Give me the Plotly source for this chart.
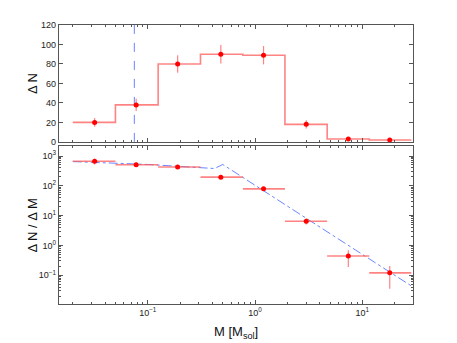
import plotly.graph_objects as go
from plotly.subplots import make_subplots

# mass bins (edges) and centres, in solar masses
bin_edges = [0.02, 0.05, 0.125, 0.31, 0.77, 1.9, 4.7, 11.6, 28.6]
bin_mass = [0.032, 0.078, 0.19, 0.48, 1.2, 3.0, 7.4, 18.0]

# counts per bin and their errors
counts = [20, 38, 80, 90, 89, 18, 3, 2]
counts_err = [4.5, 6.2, 8.9, 9.5, 9.4, 4.2, 1.7, 1.4]

# dN/dM and errors
dndm = [667, 510, 430, 195, 79, 6.5, 0.44, 0.12]
dndm_err = [150, 83, 48, 21, 8.3, 1.5, 0.25, 0.085]

# broken power law fit
fit_mass = [0.02, 0.1, 0.42, 0.5, 30]
fit_dndm = [650, 520, 380, 520, 0.039]

mass_limit = 0.075

x_ticks = [0.1, 1, 10]
x_ticklabels = ["10<sup>−1</sup>", "10<sup>0</sup>", "10<sup>1</sup>"]
y_ticks = [0.1, 1, 10, 100, 1000]
y_ticklabels = ["10<sup>−1</sup>", "10<sup>0</sup>", "10<sup>1</sup>", "10<sup>2</sup>", "10<sup>3</sup>"]

red = "#ff0000"
step_col = "rgba(255,90,90,0.75)"
blue = "rgba(90,120,255,0.9)"
axcol = "#555555"

fig = make_subplots(rows=2, cols=1, shared_xaxes=False, vertical_spacing=0.0)

# top panel: step histogram
fig.add_trace(go.Scatter(x=bin_edges, y=counts + [counts[-1]], mode="lines",
                         line=dict(color=step_col, width=1.6, shape="hv"),
                         showlegend=False), row=1, col=1)
fig.add_trace(go.Scatter(x=[mass_limit, mass_limit], y=[0, 120], mode="lines",
                         line=dict(color=blue, width=1, dash="dash"),
                         showlegend=False), row=1, col=1)
fig.add_trace(go.Scatter(x=bin_mass, y=counts, mode="markers",
                         marker=dict(color=red, size=5),
                         error_y=dict(type="data", array=counts_err, color=step_col,
                                      thickness=1.2, width=0),
                         showlegend=False), row=1, col=1)

# bottom panel
lo = [m - e for m, e in zip(bin_mass, bin_edges[:-1])]
hi = [e - m for m, e in zip(bin_mass, bin_edges[1:])]
fig.add_trace(go.Scatter(x=fit_mass, y=fit_dndm, mode="lines",
                         line=dict(color=blue, width=1, dash="dashdot"),
                         showlegend=False), row=2, col=1)
fig.add_trace(go.Scatter(x=bin_mass, y=dndm, mode="markers",
                         marker=dict(color=red, size=5),
                         error_x=dict(type="data", symmetric=False, array=hi, arrayminus=lo,
                                      color=step_col, thickness=1.6, width=0),
                         error_y=dict(type="data", array=dndm_err, color=step_col,
                                      thickness=1.2, width=0),
                         showlegend=False), row=2, col=1)

minor_log = [k * 10 ** e for e in range(-3, 4) for k in range(2, 10)]

tickfont = dict(family="Liberation Sans, Arial", size=9, color="#222222")
common = dict(showline=True, linecolor=axcol, linewidth=1.3, mirror="allticks",
              ticks="inside", ticklen=4, tickcolor=axcol, showgrid=False,
              zeroline=False, tickfont=tickfont)
xlog = dict(type="log", range=[-1.827, 1.472], tickmode="array",
            tickvals=x_ticks, ticktext=x_ticklabels,
            minor=dict(ticks="inside", ticklen=2, tickcolor=axcol, showgrid=False,
                       tickmode="array", tickvals=minor_log))

fig.update_xaxes(**common, **xlog, showticklabels=False, row=1, col=1)
fig.update_xaxes(**common, **xlog, row=2, col=1)
fig.update_yaxes(**common, range=[0, 120], dtick=20, row=1, col=1)
fig.update_yaxes(**common, type="log", range=[-1.967, 3.333], tickmode="array",
                 tickvals=y_ticks, ticktext=y_ticklabels,
                 minor=dict(ticks="inside", ticklen=2, tickcolor=axcol, showgrid=False,
                            tickmode="array", tickvals=minor_log),
                 row=2, col=1)

fig.update_layout(
    width=457, height=343,
    margin=dict(l=59, r=44, t=25, b=39, autoexpand=False),
    plot_bgcolor="white", paper_bgcolor="white",
    font=dict(family="Liberation Sans, Arial", color="#111111"),
)
fig.layout.yaxis.domain = [0.581, 1.0]
fig.layout.yaxis2.domain = [0.0, 0.566]

title_font = dict(family="Liberation Sans, Arial", size=13, color="#111111")
fig.add_annotation(text="Δ N", x=-0.075, y=0.79, xref="paper", yref="paper",
                   xanchor="center", yanchor="middle",
                   textangle=-90, showarrow=False, font=title_font)
fig.add_annotation(text="Δ N / Δ M", x=-0.075, y=0.283, xref="paper", yref="paper",
                   xanchor="center", yanchor="middle",
                   textangle=-90, showarrow=False, font=title_font)
fig.add_annotation(text="M [M<sub>sol</sub>]", x=0.5, y=-0.065, xref="paper", yref="paper",
                   xanchor="center", yanchor="top", showarrow=False, font=title_font)

fig.write_html("out.html", config={"displayModeBar": False},
               post_script="document.body.style.margin='0px';")
